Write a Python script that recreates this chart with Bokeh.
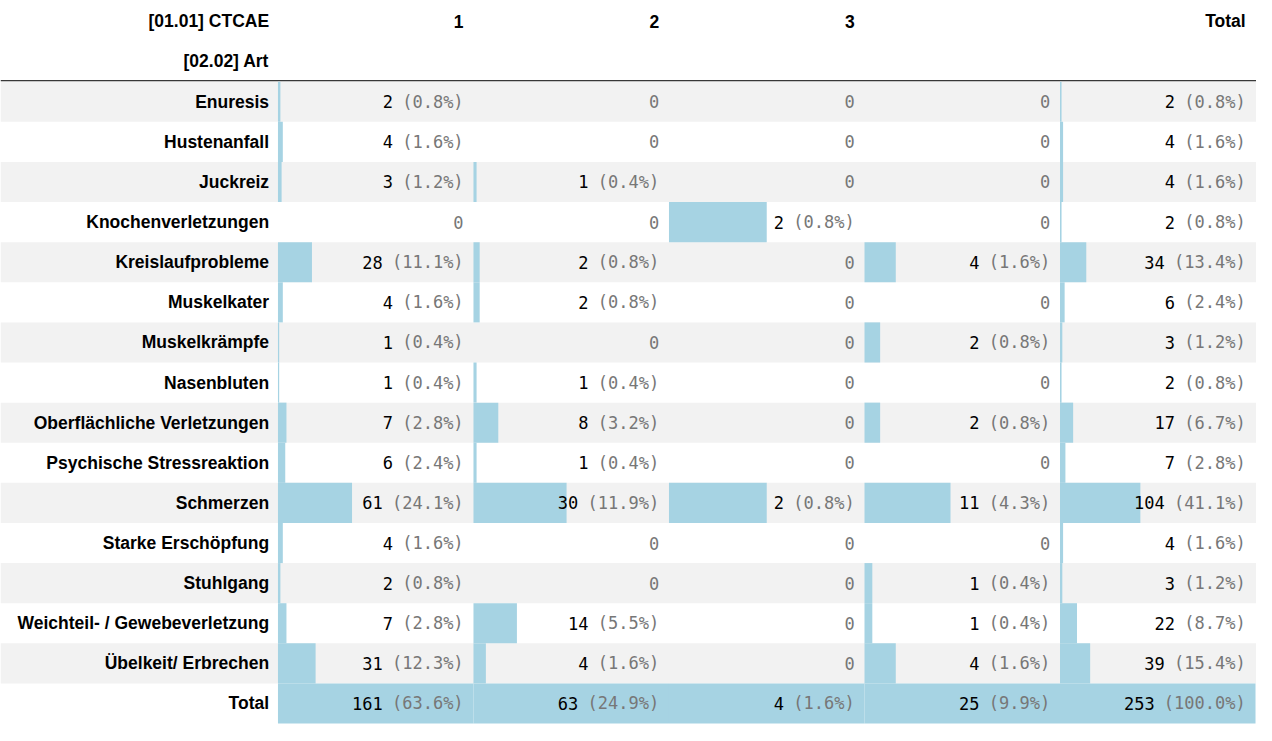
from bokeh.plotting import figure
from bokeh.models import Range1d, ColumnDataSource
from bokeh.core.properties import value
from bokeh.embed import file_html
from bokeh.resources import INLINE

row_labels = ["Enuresis", "Hustenanfall", "Juckreiz", "Knochenverletzungen",
              "Kreislaufprobleme", "Muskelkater", "Muskelkrämpfe", "Nasenbluten",
              "Oberflächliche Verletzungen", "Psychische Stressreaktion", "Schmerzen",
              "Starke Erschöpfung", "Stuhlgang", "Weichteil- / Gewebeverletzung",
              "Übelkeit/ Erbrechen", "Total"]
col_headers = ["1", "2", "3", "", "Total"]
grade1 = [2, 4, 3, 0, 28, 4, 1, 1, 7, 6, 61, 4, 2, 7, 31, 161]
grade2 = [0, 0, 1, 0, 2, 2, 0, 1, 8, 1, 30, 0, 0, 14, 4, 63]
grade3 = [0, 0, 0, 2, 0, 0, 0, 0, 0, 0, 2, 0, 0, 0, 0, 4]
grade_blank = [0, 0, 0, 0, 4, 0, 2, 0, 2, 0, 11, 0, 1, 1, 4, 25]
totals = [2, 4, 4, 2, 34, 6, 3, 2, 17, 7, 104, 4, 3, 22, 39, 253]
columns = [grade1, grade2, grade3, grade_blank, totals]

W, H = 1272, 741
p = figure(width=1256, height=725, output_backend="svg", toolbar_location=None,
           x_range=Range1d(0, W), y_range=Range1d(H, 0), min_border=0)
p.axis.visible = False
p.grid.visible = False
p.outline_line_color = None

top0, rh = 83, 41
col_left0, col_step, cell_w = 281, 198, 198
grand = totals[-1]
bar_color = "#a6d3e3"
fs = 17
cw = fs * 0.602
mono = value("DejaVu Sans Mono")
sans = value("Liberation Sans")
lfs = "17.5px"

# row stripes
stripe = [i for i in range(len(row_labels)) if i % 2 == 0]
p.quad(left=0, right=W, top=[top0 + i * rh for i in stripe],
       bottom=[top0 + (i + 1) * rh for i in stripe], color="#f2f2f2", line_color=None)

# header
p.segment(x0=0, x1=W, y0=82, y1=82, line_color="black", line_width=1)
p.text(x=[272, 272], y=[21, 62], text=["[01.01] CTCAE", "[02.02] Art"], text_font=sans,
       text_font_style="bold", text_font_size=lfs, text_align="right", text_baseline="middle")
p.text(x=[col_left0 + j * col_step + cell_w - 10 for j in range(5)], y=[21] * 5, text=col_headers,
       text_font=sans, text_font_style="bold", text_font_size=lfs,
       text_align="right", text_baseline="middle")

# row labels
p.text(x=[272] * len(row_labels), y=[top0 + i * rh + rh / 2 for i in range(len(row_labels))],
       text=row_labels, text_font=sans, text_font_style="bold", text_font_size=lfs,
       text_align="right", text_baseline="middle")

for j, col in enumerate(columns):
    left = col_left0 + j * col_step
    right_txt = left + cell_w - 10
    ctot = col[-1]
    src = ColumnDataSource(dict(
        left=[left] * len(col),
        right=[left + v / ctot * cell_w for v in col],
        top=[top0 + i * rh for i in range(len(col))],
        bottom=[top0 + (i + 1) * rh for i in range(len(col))],
    ))
    p.quad(left="left", right="right", top="top", bottom="bottom", source=src,
           color=bar_color, line_color=None)
    nx, ny, nt, nc, px_, py, pt = [], [], [], [], [], [], []
    for i, v in enumerate(col):
        y = top0 + i * rh + rh / 2
        if v == 0:
            nx.append(right_txt); ny.append(y); nt.append("0"); nc.append("#777777")
        else:
            pct = f"({v / grand * 100:.1f}%)"
            px_.append(right_txt); py.append(y); pt.append(pct)
            nx.append(right_txt - (len(pct) + 1) * cw); ny.append(y); nt.append(str(v)); nc.append("black")
    p.text(x=nx, y=ny, text=nt, text_color=nc, text_font=mono, text_font_size=f"{fs}px",
           text_align="right", text_baseline="middle")
    p.text(x=px_, y=py, text=pt, text_color="#777777", text_font=mono, text_font_size=f"{fs}px",
           text_align="right", text_baseline="middle")

open("out.html", "w").write(file_html(p, INLINE))
